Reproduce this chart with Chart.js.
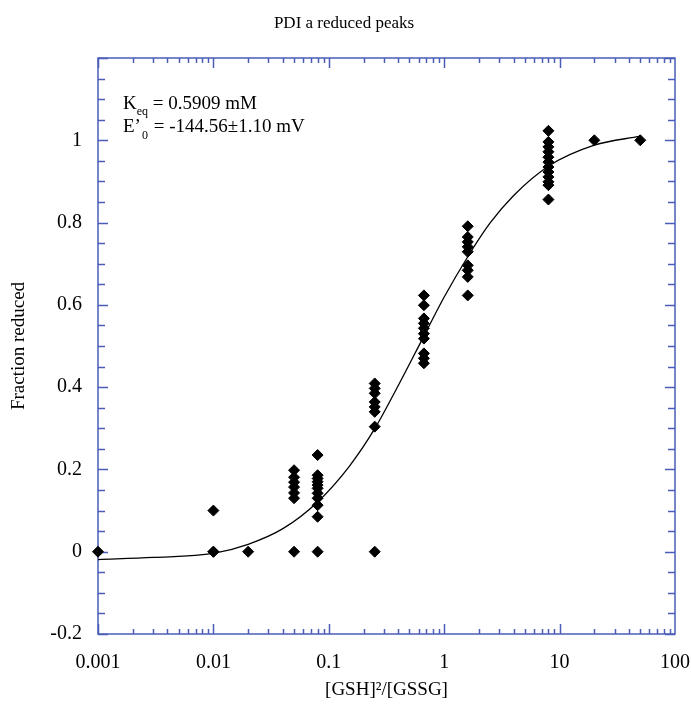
<!DOCTYPE html>
<html>
<head>
<meta charset="utf-8">
<script src="https://cdn.jsdelivr.net/npm/chart.js@4.4.1/dist/chart.umd.min.js"></script>
<style>
  html, body { margin: 0; padding: 0; background: #ffffff; }
  #wrap { width: 691px; height: 706px; position: relative; }
</style>
</head>
<body>
<div id="wrap"><canvas id="chart" width="691" height="706"></canvas></div>
<script>
// [GSH]^2/[GSSG] ratios (mM) used in the titration
const ratios = [0.001, 0.01, 0.02, 0.05, 0.08, 0.25, 0.667, 1.6, 8, 20, 50];

// Fraction of PDI a domain found reduced at each ratio (replicate peaks)
const fracAt0001 = [0];
const fracAt001  = [0.1, 0, 0];
const fracAt002  = [0];
const fracAt005  = [0.198, 0.181, 0.169, 0.157, 0.143, 0.130, 0];
const fracAt008  = [0.235, 0.186, 0.178, 0.170, 0.162, 0.154, 0.142, 0.130, 0.113, 0.085, 0];
const fracAt025  = [0.409, 0.397, 0.385, 0.364, 0.352, 0.340, 0.304, 0];
const fracAt0667 = [0.623, 0.599, 0.567, 0.555, 0.543, 0.530, 0.518, 0.482, 0.470, 0.458];
const fracAt16   = [0.791, 0.765, 0.753, 0.741, 0.729, 0.696, 0.684, 0.668, 0.623];
const fracAt8    = [1.023, 0.996, 0.984, 0.972, 0.959, 0.947, 0.935, 0.923, 0.911, 0.899, 0.891, 0.856];
const fracAt20   = [1.0];
const fracAt50   = [1.0];
const fractions = [fracAt0001, fracAt001, fracAt002, fracAt005, fracAt008, fracAt025,
                   fracAt0667, fracAt16, fracAt8, fracAt20, fracAt50];

// Fitted titration curve
const fitX = [0.001, 0.003, 0.01, 0.02, 0.04, 0.08, 0.15, 0.25, 0.4, 0.65, 1, 1.6, 2.5, 4, 8, 20, 50];
const fitY = [-0.019, -0.014, -0.004, 0.018, 0.056, 0.121, 0.207, 0.299, 0.404, 0.518, 0.619, 0.717, 0.799, 0.866, 0.937, 0.988, 1.010];

// Axis tick labels
const xTickValues = [0.001, 0.01, 0.1, 1, 10, 100];
const xTickLabels = ['0.001', '0.01', '0.1', '1', '10', '100'];
const yTickValues = [-0.2, 0, 0.2, 0.4, 0.6, 0.8, 1];
const yTickLabels = ['-0.2', '0', '0.2', '0.4', '0.6', '0.8', '1'];

const titleText = 'PDI a reduced peaks';
const xTitle = '[GSH]\u00B2/[GSSG]';
const yTitle = 'Fraction reduced';

const SERIF = '"Liberation Serif", "Times New Roman", serif';
const AXIS_COLOR = '#4a5db8';

const points = [];
ratios.forEach((r, i) => fractions[i].forEach(v => points.push({ x: r, y: v })));
const fitPoints = fitX.map((x, i) => ({ x: x, y: fitY[i] }));

// Boxed frame with inward ticks on all four sides, plus title and fit annotation
const framePlugin = {
  id: 'frame',
  beforeDatasetsDraw(chart) {
    const { ctx, chartArea: a, scales: { x, y } } = chart;
    ctx.save();
    ctx.strokeStyle = AXIS_COLOR;
    ctx.lineWidth = 1.5;
    ctx.strokeRect(a.left, a.top, a.right - a.left, a.bottom - a.top);
    ctx.beginPath();
    for (let e = -3; e <= 1; e++) {
      for (let k = 1; k <= 9; k++) {
        const v = k * Math.pow(10, e);
        const px = Math.round(x.getPixelForValue(v)) + 0.5;
        const len = k === 1 ? 10 : 5;
        ctx.moveTo(px, a.bottom); ctx.lineTo(px, a.bottom - len);
        ctx.moveTo(px, a.top); ctx.lineTo(px, a.top + len);
      }
    }
    for (let i = -4; i <= 24; i++) {
      const v = i * 0.05;
      const py = Math.round(y.getPixelForValue(v)) + 0.5;
      const len = i % 4 === 0 ? 10 : 7;
      ctx.moveTo(a.left, py); ctx.lineTo(a.left + len, py);
      ctx.moveTo(a.right, py); ctx.lineTo(a.right - len, py);
    }
    ctx.stroke();
    ctx.restore();
  },
  afterDraw(chart) {
    const { ctx, chartArea: a } = chart;
    ctx.save();
    ctx.fillStyle = '#000';
    ctx.textBaseline = 'alphabetic';
    ctx.font = '17px ' + SERIF;
    ctx.textAlign = 'center';
    ctx.fillText(titleText, 344, 28);

    ctx.textAlign = 'left';
    const x0 = a.left + 25;
    let cx = x0;
    ctx.font = '19px ' + SERIF;
    ctx.fillText('K', cx, 109);
    cx += ctx.measureText('K').width;
    ctx.font = '12px ' + SERIF;
    ctx.fillText('eq', cx, 115);
    cx += ctx.measureText('eq').width;
    ctx.font = '19px ' + SERIF;
    ctx.fillText(' = 0.5909 mM', cx, 109);

    cx = x0;
    ctx.fillText('E\u2019', cx, 132);
    cx += ctx.measureText('E\u2019').width;
    ctx.font = '12px ' + SERIF;
    ctx.fillText('0', cx + 1, 139);
    cx += ctx.measureText('0').width + 2;
    ctx.font = '19px ' + SERIF;
    ctx.fillText(' = -144.56\u00B11.10 mV', cx, 132);
    ctx.restore();
  }
};

new Chart(document.getElementById('chart'), {
  type: 'scatter',
  data: {
    datasets: [
      {
        type: 'line',
        data: fitPoints,
        borderColor: '#000',
        borderWidth: 1.3,
        pointRadius: 0,
        fill: false,
        cubicInterpolationMode: 'monotone',
        order: 2
      },
      {
        data: points,
        pointStyle: 'rectRot',
        pointRadius: 5.5,
        pointBackgroundColor: '#000',
        pointBorderColor: '#000',
        pointBorderWidth: 1,
        clip: false,
        order: 1
      }
    ]
  },
  options: {
    responsive: false,
    animation: false,
    devicePixelRatio: 1,
    layout: { padding: { top: 58, right: 16, left: 0, bottom: 0 } },
    plugins: { legend: { display: false }, tooltip: { enabled: false }, title: { display: false } },
    scales: {
      x: {
        type: 'logarithmic',
        min: 0.001,
        max: 100,
        border: { display: false },
        grid: { display: false, drawTicks: false },
        afterBuildTicks(scale) { scale.ticks = xTickValues.map(v => ({ value: v })); },
        afterFit(scale) { scale.height = 72; scale.paddingLeft = 0; scale.paddingRight = 0; },
        ticks: {
          autoSkip: false,
          maxRotation: 0,
          padding: 17,
          color: '#000',
          font: { family: SERIF, size: 20 },
          callback: (v) => { const i = xTickValues.indexOf(v); return i >= 0 ? xTickLabels[i] : ''; }
        },
        title: {
          display: true,
          text: xTitle,
          color: '#000',
          font: { family: SERIF, size: 19 },
          padding: { top: 0, bottom: 5 }
        }
      },
      y: {
        min: -0.2,
        max: 1.2,
        border: { display: false },
        grid: { display: false, drawTicks: false },
        afterBuildTicks(scale) { scale.ticks = yTickValues.map(v => ({ value: v })); },
        afterFit(scale) { scale.width = 98; },
        ticks: {
          autoSkip: false,
          padding: 16,
          color: '#000',
          font: { family: SERIF, size: 20 },
          callback: (v) => { const i = yTickValues.findIndex(t => Math.abs(t - v) < 1e-9); return i >= 0 ? yTickLabels[i] : ''; }
        },
        title: {
          display: true,
          text: yTitle,
          color: '#000',
          font: { family: SERIF, size: 19 },
          padding: { top: 8, bottom: 0 }
        }
      }
    }
  },
  plugins: [framePlugin]
});
</script>
</body>
</html>
